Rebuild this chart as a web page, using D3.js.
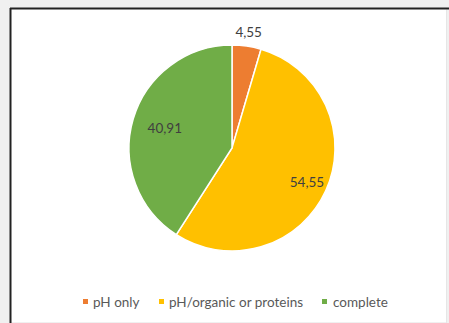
<!DOCTYPE html>
<html><head><meta charset="utf-8">
<script src="https://cdn.jsdelivr.net/npm/d3@7"></script>
<style>html,body{margin:0;padding:0;background:#f3f3f3;}svg{display:block;}</style>
</head><body>
<svg id="c" width="449" height="323"></svg>
<script>
const categories = ["pH only", "pH/organic or proteins", "complete"];
const values = [4.55, 54.55, 40.91];
const labels = ["4,55", "54,55", "40,91"];
const colors = ["#ED7D31", "#FFC000", "#70AD47"];

const svg = d3.select("#c");
const font = "Lato, 'Open Sans', sans-serif";

// frame
svg.append("rect").attr("x", 0).attr("y", 0).attr("width", 449).attr("height", 323).attr("fill", "#f0f0f0");
svg.append("rect").attr("x", 11).attr("y", 9).attr("width", 435).attr("height", 313).attr("fill", "#ffffff");
svg.append("line").attr("x1", 10.5).attr("x2", 10.5).attr("y1", 8).attr("y2", 323).attr("stroke", "#222").attr("stroke-width", 2);
svg.append("line").attr("x1", 10).attr("x2", 449).attr("y1", 8.5).attr("y2", 8.5).attr("stroke", "#222").attr("stroke-width", 2);
svg.append("line").attr("x1", 446.5).attr("x2", 446.5).attr("y1", 10).attr("y2", 323).attr("stroke", "#e6e6e6").attr("stroke-width", 1);

const cx = 232, cy = 148, r = 103;
const pie = d3.pie().sort(null).value(d => d)(values);
const arc = d3.arc().innerRadius(0).outerRadius(r);
const g = svg.append("g").attr("transform", `translate(${cx},${cy})`);
g.selectAll("path").data(pie).join("path")
  .attr("d", arc)
  .attr("fill", (d, i) => colors[i])
  .attr("stroke", "#fff").attr("stroke-width", 1.5);

// labels
const labelPos = [
  d3.arc().innerRadius(r + 14).outerRadius(r + 14),
  d3.arc().innerRadius(r * 0.8).outerRadius(r * 0.8),
  d3.arc().innerRadius(r * 0.68).outerRadius(r * 0.68)
];
g.selectAll("text").data(pie).join("text")
  .attr("transform", (d, i) => {
    const c = labelPos[i].centroid(d);
    return `translate(${c[0]},${c[1]})`;
  })
  .attr("text-anchor", "middle").attr("dy", "0.35em")
  .attr("font-family", font).attr("font-size", 13.5)
  .attr("fill", "#404040")
  .text((d, i) => labels[i]);

// legend
const legendX = [86, 162, 325];
const textX = [93, 169, 333];
const lg = svg.append("g");
categories.forEach((c, i) => {
  lg.append("rect").attr("x", legendX[i] - 3).attr("y", 299).attr("width", 5).attr("height", 5).attr("fill", colors[i]);
  lg.append("text").attr("x", textX[i]).attr("y", 302).attr("dy", "0.35em")
    .attr("font-family", font).attr("font-size", 13.5).attr("fill", "#595959").text(c);
});
</script>
</body></html>
